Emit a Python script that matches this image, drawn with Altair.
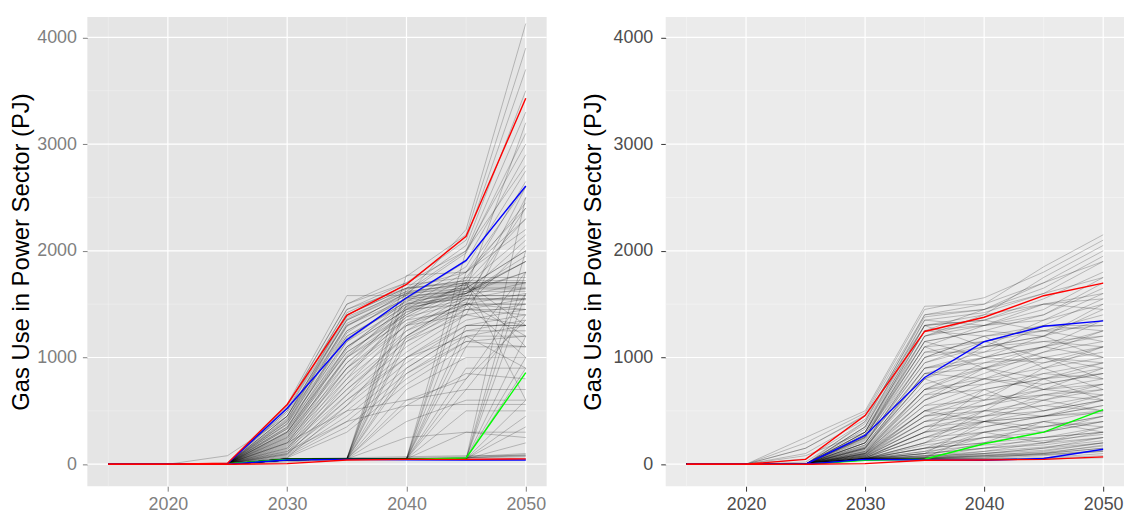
import altair as alt
import pandas as pd

years = [2015, 2020, 2025, 2030, 2035, 2040, 2045, 2050]

# ensemble runs, left panel (values in PJ at each year)
left_grey = [
    [0, 0, 5, 560, 1580, 1580, 2200, 4130],
    [0, 0, 10, 540, 1500, 1760, 2150, 3900],
    [0, 0, 5, 520, 1450, 1700, 2100, 3700],
    [0, 0, 5, 500, 1400, 1650, 2050, 3500],
    [0, 0, 5, 480, 1350, 1620, 2000, 3300],
    [0, 0, 5, 450, 1300, 1600, 1980, 3100],
    [0, 0, 5, 430, 1250, 1550, 1900, 2900],
    [0, 0, 5, 400, 1200, 1520, 1850, 2750],
    [0, 0, 5, 380, 1150, 1480, 1800, 2600],
    [0, 0, 5, 350, 1100, 1450, 1750, 2450],
    [0, 0, 5, 330, 1050, 1420, 1700, 2300],
    [0, 0, 5, 300, 1000, 1400, 1680, 2150],
    [0, 0, 5, 280, 950, 1380, 1650, 2000],
    [0, 0, 5, 260, 900, 1350, 1620, 1900],
    [0, 0, 5, 240, 850, 1300, 1600, 1800],
    [0, 0, 5, 220, 800, 1250, 1580, 1700],
    [0, 0, 5, 200, 750, 1200, 1550, 1650],
    [0, 0, 5, 180, 700, 1150, 1500, 1600],
    [0, 0, 5, 160, 650, 1100, 1450, 1550],
    [0, 0, 5, 140, 600, 1050, 1400, 1500],
    [0, 0, 5, 120, 550, 1000, 1350, 1450],
    [0, 0, 5, 100, 500, 950, 1300, 1400],
    [0, 0, 5, 90, 450, 900, 1250, 1350],
    [0, 0, 5, 80, 400, 850, 1200, 1300],
    [0, 0, 5, 70, 350, 800, 1150, 1200],
    [0, 0, 5, 60, 300, 750, 1100, 1100],
    [0, 0, 5, 500, 1450, 1650, 1700, 1700],
    [0, 0, 5, 450, 1350, 1600, 1650, 1650],
    [0, 0, 5, 400, 1300, 1550, 1600, 2100],
    [0, 0, 5, 350, 1200, 1500, 1550, 1550],
    [0, 0, 5, 300, 1100, 1450, 1500, 1450],
    [0, 0, 5, 250, 1000, 1350, 1450, 1400],
    [0, 0, 5, 200, 900, 1300, 1400, 1300],
    [0, 0, 5, 550, 1500, 1700, 2000, 2800],
    [0, 0, 80, 450, 1400, 1650, 1800, 2400],
    [0, 0, 5, 150, 700, 1200, 1500, 1000],
    [0, 0, 5, 100, 600, 1000, 1200, 900],
    [0, 0, 5, 300, 1050, 1400, 1700, 600],
    [0, 0, 5, 200, 500, 600, 700, 700],
    [0, 0, 5, 120, 400, 550, 560, 560],
    [0, 0, 5, 420, 1380, 1620, 1680, 1680],
    [0, 0, 5, 380, 1320, 1580, 1620, 1800],
    [0, 0, 5, 340, 1250, 1560, 1640, 1640],
    [0, 0, 5, 310, 1180, 1530, 1600, 1950],
    [0, 0, 5, 270, 1100, 1500, 1580, 1580],
    [0, 0, 5, 230, 1020, 1470, 1560, 2400],
    [0, 0, 5, 190, 950, 1430, 1540, 1540],
    [0, 0, 5, 150, 850, 1380, 1520, 1200],
    [0, 0, 5, 110, 750, 1320, 1500, 1500],
    [0, 0, 5, 90, 650, 1250, 1480, 2050],
    [0, 0, 5, 60, 550, 1180, 1450, 1450],
    [0, 0, 5, 450, 1420, 1680, 1750, 1750],
    [0, 0, 5, 410, 1360, 1640, 1720, 2650],
    [0, 0, 5, 370, 1290, 1610, 1700, 1300],
    [0, 0, 5, 330, 1230, 1590, 1680, 1100],
    [0, 0, 5, 290, 1150, 1560, 1660, 1660],
    [0, 0, 5, 250, 1080, 1540, 1640, 3200],
    [0, 0, 5, 210, 1000, 1510, 1620, 1620],
    [0, 0, 5, 170, 900, 1480, 1600, 1900],
    [0, 0, 5, 130, 800, 1460, 1580, 1580],
    [0, 0, 0, 50, 50, 1770, 1800, 2200],
    [0, 0, 0, 50, 50, 1650, 1720, 1720],
    [0, 0, 0, 50, 50, 1600, 1700, 1700],
    [0, 0, 0, 50, 50, 1500, 1650, 2000],
    [0, 0, 0, 50, 50, 1450, 1600, 1900],
    [0, 0, 0, 50, 50, 1300, 1500, 1500],
    [0, 0, 0, 50, 50, 1200, 1550, 1550],
    [0, 0, 0, 50, 50, 1150, 1400, 2500],
    [0, 0, 0, 50, 50, 1000, 1300, 1300],
    [0, 0, 0, 50, 50, 900, 1250, 1250],
    [0, 0, 0, 50, 50, 850, 1150, 1100],
    [0, 0, 0, 50, 50, 700, 1000, 1000],
    [0, 0, 0, 50, 50, 600, 800, 1350],
    [0, 0, 0, 50, 50, 550, 850, 800],
    [0, 0, 0, 50, 50, 400, 600, 600],
    [0, 0, 0, 50, 50, 250, 300, 300],
    [0, 0, 0, 40, 50, 50, 2000, 3000],
    [0, 0, 0, 40, 50, 50, 1800, 2300],
    [0, 0, 0, 40, 50, 50, 1700, 1700],
    [0, 0, 0, 40, 50, 50, 1500, 2600],
    [0, 0, 0, 40, 50, 50, 1300, 1300],
    [0, 0, 0, 40, 50, 50, 1200, 1200],
    [0, 0, 0, 40, 50, 50, 1100, 1800],
    [0, 0, 0, 40, 50, 50, 900, 900],
    [0, 0, 0, 40, 50, 50, 800, 1600],
    [0, 0, 0, 40, 50, 50, 700, 1400],
    [0, 0, 0, 40, 50, 50, 500, 500],
    [0, 0, 0, 40, 50, 50, 300, 250],
    [0, 0, 0, 40, 50, 50, 50, 2500],
    [0, 0, 0, 40, 50, 50, 50, 2000],
    [0, 0, 0, 40, 50, 50, 50, 1800],
    [0, 0, 0, 40, 50, 50, 50, 1600],
    [0, 0, 0, 40, 50, 50, 50, 1200],
    [0, 0, 0, 40, 50, 50, 50, 1000],
    [0, 0, 0, 40, 50, 50, 50, 900],
    [0, 0, 0, 40, 50, 50, 50, 600],
    [0, 0, 0, 40, 50, 50, 50, 450],
    [0, 0, 0, 40, 50, 50, 50, 350],
    [0, 0, 0, 40, 50, 50, 50, 200],
    [0, 0, 0, 50, 50, 50, 60, 70],
    [0, 0, 0, 20, 50, 50, 60, 80],
    [0, 0, 0, 50, 50, 50, 50, 50],
    [0, 0, 0, 30, 40, 50, 60, 90],
    [0, 0, 0, 50, 60, 70, 80, 80],
    [0, 0, 0, 40, 50, 60, 70, 100],
]

# ensemble runs, right panel
right_grey = [
    [0, 0, 250, 500, 1480, 1500, 1850, 2150],
    [0, 0, 200, 480, 1450, 1560, 1800, 2100],
    [0, 0, 150, 460, 1400, 1500, 1700, 2000],
    [0, 0, 100, 420, 1380, 1450, 1650, 1950],
    [0, 0, 50, 400, 1350, 1420, 1600, 1900],
    [0, 0, 20, 380, 1300, 1350, 1550, 1800],
    [0, 0, 0, 350, 1250, 1300, 1450, 1750],
    [0, 0, 0, 330, 1200, 1400, 1500, 1600],
    [0, 0, 0, 300, 1150, 1250, 1400, 1650],
    [0, 0, 0, 280, 1100, 1300, 1350, 1500],
    [0, 0, 0, 260, 1050, 1150, 1300, 1550],
    [0, 0, 0, 240, 1000, 1200, 1250, 1400],
    [0, 0, 0, 220, 950, 1100, 1200, 1450],
    [0, 0, 0, 200, 900, 1050, 1300, 1300],
    [0, 0, 0, 180, 850, 1000, 1100, 1350],
    [0, 0, 0, 170, 800, 1100, 1150, 1200],
    [0, 0, 0, 160, 750, 900, 1050, 1250],
    [0, 0, 0, 150, 700, 950, 1000, 1100],
    [0, 0, 0, 140, 650, 850, 1050, 1150],
    [0, 0, 0, 130, 600, 800, 900, 1000],
    [0, 0, 0, 120, 550, 750, 950, 1050],
    [0, 0, 0, 110, 500, 700, 800, 900],
    [0, 0, 0, 100, 450, 650, 850, 950],
    [0, 0, 0, 90, 400, 600, 700, 800],
    [0, 0, 0, 80, 350, 550, 750, 850],
    [0, 0, 0, 70, 300, 500, 600, 700],
    [0, 0, 0, 60, 250, 450, 650, 750],
    [0, 0, 0, 55, 200, 400, 500, 600],
    [0, 0, 0, 50, 150, 350, 450, 550],
    [0, 0, 0, 50, 120, 300, 400, 500],
    [0, 0, 0, 50, 100, 250, 350, 450],
    [0, 0, 0, 50, 80, 200, 300, 400],
    [0, 0, 0, 50, 70, 150, 250, 350],
    [0, 0, 0, 50, 60, 120, 200, 300],
    [0, 0, 0, 50, 55, 100, 150, 250],
    [0, 0, 0, 45, 50, 80, 120, 200],
    [0, 0, 0, 45, 50, 60, 100, 150],
    [0, 0, 0, 45, 50, 55, 80, 120],
    [0, 0, 0, 40, 50, 50, 60, 100],
    [0, 0, 0, 40, 45, 50, 55, 80],
    [0, 0, 0, 40, 45, 45, 50, 60],
    [0, 0, 0, 300, 1300, 1100, 1200, 1000],
    [0, 0, 0, 250, 1100, 900, 1000, 800],
    [0, 0, 0, 200, 1000, 1200, 900, 1100],
    [0, 0, 0, 150, 800, 600, 900, 700],
    [0, 0, 0, 100, 600, 900, 700, 900],
    [0, 0, 0, 80, 500, 400, 600, 500],
    [0, 0, 0, 60, 300, 700, 500, 650],
    [0, 0, 0, 50, 200, 500, 800, 600],
    [0, 0, 0, 50, 100, 400, 300, 450],
    [0, 0, 0, 50, 150, 200, 400, 300],
    [0, 0, 0, 50, 60, 300, 200, 350],
    [0, 0, 0, 400, 1400, 1450, 1600, 1750],
    [0, 0, 0, 350, 1350, 1300, 1500, 1450],
    [0, 0, 0, 300, 1200, 1350, 1250, 1300],
    [0, 0, 0, 250, 1150, 1000, 1100, 1200],
    [0, 0, 0, 200, 950, 1150, 1000, 950],
    [0, 0, 0, 150, 850, 800, 1000, 900],
    [0, 0, 0, 120, 700, 800, 750, 850],
    [0, 0, 0, 100, 550, 600, 650, 600],
    [0, 0, 0, 80, 450, 500, 550, 650],
    [0, 0, 0, 70, 350, 400, 450, 500],
    [0, 0, 0, 60, 250, 300, 350, 400],
    [0, 0, 0, 55, 150, 250, 250, 300],
    [0, 0, 0, 50, 100, 150, 200, 250],
    [0, 0, 0, 50, 80, 100, 150, 200],
    [0, 0, 0, 45, 60, 80, 100, 180],
    [0, 0, 0, 45, 55, 70, 90, 130],
    [0, 0, 80, 300, 1250, 1450, 1700, 1900],
    [0, 0, 0, 350, 1300, 1400, 1750, 2050],
    [0, 0, 0, 250, 1200, 1300, 1400, 1700],
    [0, 0, 0, 200, 1000, 1100, 1350, 1600],
    [0, 0, 0, 150, 900, 1000, 1200, 1500],
    [0, 0, 0, 100, 700, 900, 1100, 1250],
    [0, 0, 0, 100, 500, 650, 600, 750],
    [0, 0, 0, 90, 450, 550, 700, 650],
    [0, 0, 0, 80, 400, 500, 450, 600],
    [0, 0, 0, 70, 350, 450, 550, 500],
    [0, 0, 0, 60, 300, 350, 450, 550],
    [0, 0, 0, 55, 250, 400, 350, 450],
    [0, 0, 0, 50, 200, 300, 400, 350],
    [0, 0, 0, 50, 180, 250, 300, 400],
    [0, 0, 0, 50, 150, 200, 250, 300],
    [0, 0, 0, 50, 120, 180, 220, 280],
    [0, 0, 0, 45, 100, 150, 180, 250],
    [0, 0, 0, 45, 80, 120, 160, 220],
    [0, 0, 0, 45, 70, 100, 130, 200],
    [0, 0, 0, 40, 60, 90, 110, 170],
    [0, 0, 0, 40, 55, 80, 100, 150],
    [0, 0, 0, 40, 50, 70, 90, 120],
    [0, 0, 0, 200, 900, 950, 1100, 1000],
    [0, 0, 0, 180, 850, 900, 800, 950],
    [0, 0, 0, 160, 800, 1000, 950, 1100],
    [0, 0, 0, 140, 700, 750, 850, 800],
    [0, 0, 0, 120, 650, 700, 800, 850],
    [0, 0, 0, 110, 600, 800, 700, 750],
    [0, 0, 0, 300, 1250, 1200, 1300, 1250],
    [0, 0, 0, 280, 1150, 1250, 1200, 1350],
    [0, 0, 0, 260, 1100, 1150, 1250, 1150],
    [0, 0, 150, 450, 1300, 1350, 1500, 1550],
    [0, 0, 0, 230, 1050, 1050, 1150, 1100],
    [0, 0, 0, 90, 500, 550, 650, 700],
    [0, 0, 0, 70, 400, 450, 500, 600],
    [0, 0, 0, 60, 300, 400, 450, 480],
]

# highlighted runs
left_red = [0, 0, 10, 560, 1395, 1685, 2135, 3430]
left_red_low = [0, 0, 0, 5, 40, 45, 45, 50]
left_blue = [0, 0, 5, 525, 1165, 1560, 1910, 2607]
left_blue_low = [0, 0, 0, 40, 45, 42, 40, 40]
left_green = [0, 0, 5, 45, 45, 45, 58, 858]

right_red = [0, 0, 45, 456, 1244, 1377, 1579, 1697]
right_red_low = [0, 0, 0, 5, 37, 40, 45, 69]
right_blue = [0, 0, 0, 270, 813, 1148, 1293, 1343]
right_blue_low = [0, 0, 0, 45, 40, 37, 53, 140]
right_green = [0, 0, 0, 37, 47, 192, 301, 512]

y_major = [0, 1000, 2000, 3000, 4000]
y_minor = [500, 1500, 2500, 3500]
x_major = [2020, 2030, 2040, 2050]
x_minor = [2015, 2025, 2035, 2045]

TITLE = "Gas Use in Power Sector (PJ)"
FONT = "Liberation Sans"


def to_long(runs):
    rows = []
    for i, vals in enumerate(runs):
        for yr, v in zip(years, vals):
            rows.append({"run": i, "year": yr, "value": v})
    return pd.DataFrame(rows)


def panel(grey, greens, blues, reds, bg, minor_color, label_color, tick_color,
          y_label_pad, y_title_pad, width):
    xs = alt.Scale(domain=[2013.25, 2051.75], nice=False, zero=False)
    ys = alt.Scale(domain=[-206, 4191], nice=False, zero=False)
    xaxis = alt.Axis(values=x_major, format="d", grid=False, domain=False,
                     tickSize=5, tickColor=tick_color, tickWidth=1,
                     labelColor=label_color, labelFontSize=18, labelFont=FONT,
                     labelPadding=5, title=None)
    yaxis = alt.Axis(values=y_major, format="d", grid=False, domain=False,
                     tickSize=5, tickColor=tick_color, tickWidth=1,
                     labelColor=label_color, labelFontSize=18, labelFont=FONT,
                     labelPadding=y_label_pad, title=TITLE, titleFontSize=24,
                     titleFont=FONT, titleFontWeight="normal", titleColor="black",
                     titlePadding=y_title_pad)
    X = lambda: alt.X("year:Q", scale=xs, axis=xaxis)
    Y = lambda: alt.Y("value:Q", scale=ys, axis=yaxis)

    minor_x = alt.Chart(pd.DataFrame({"year": x_minor})).mark_rule(
        color=minor_color, strokeWidth=0.6).encode(x=X())
    minor_y = alt.Chart(pd.DataFrame({"value": y_minor})).mark_rule(
        color=minor_color, strokeWidth=0.6).encode(y=Y())
    major_x = alt.Chart(pd.DataFrame({"year": x_major})).mark_rule(
        color="white", strokeWidth=1.2).encode(x=X())
    major_y = alt.Chart(pd.DataFrame({"value": y_major})).mark_rule(
        color="white", strokeWidth=1.2).encode(y=Y())

    grey_lines = alt.Chart(to_long(grey)).mark_line(
        color="black", opacity=0.32, strokeWidth=0.7).encode(
        x=X(), y=Y(), detail="run:N")

    layers = [minor_x, minor_y, major_x, major_y, grey_lines]
    for runs, col in ((greens, "#00FF00"), (blues, "#0000FF"), (reds, "#FF0000")):
        layers.append(alt.Chart(to_long(runs)).mark_line(
            color=col, strokeWidth=1.4).encode(x=X(), y=Y(), detail="run:N"))

    return alt.layer(*layers).properties(
        width=width, height=473,
        view=alt.ViewBackground(fill=bg, strokeWidth=0))


left = panel(left_grey, [left_green], [left_blue_low, left_blue],
             [left_red_low, left_red], "#E5E5E5", "#F2F2F2",
             "#7F7F7F", "#7F7F7F", 6, 3, 463)
right = panel(right_grey, [right_green], [right_blue_low, right_blue],
              [right_red_low, right_red], "#EBEBEB", "#F7F7F7",
              "#4D4D4D", "#333333", 8, 8, 462)

chart = alt.hconcat(left, right, spacing=120, bounds="flush").properties(
    padding={"left": 1, "top": 6, "right": 0, "bottom": 0}
).configure_view(strokeWidth=0)

chart.save("out.html", embed_options={"renderer": "svg", "actions": False})
